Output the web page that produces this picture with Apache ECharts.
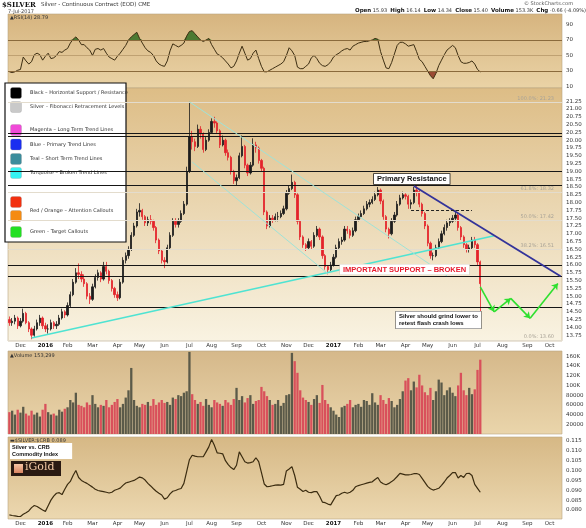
<!DOCTYPE html>
<html>
<head>
<meta charset="utf-8">
<script src="https://cdn.jsdelivr.net/npm/echarts@6/dist/echarts.min.js"></script>
<style>
  *{margin:0;padding:0;}
  body{background:#fff;}
  #chart{width:586px;height:528px;}
</style>
</head>
<body>
<div id="chart"></div>
<script>
// half-week bars (Mon-Wed / Thu-Fri), Thu 19 Nov 2015 .. mid Oct 2017
const barCount = 200;
const cats = [];
let day = new Date(Date.UTC(2015, 10, 19));
for (let i = 0; i < barCount; i++) {
  cats.push(day.toISOString().slice(0, 10));
  day = new Date(day.getTime() + (day.getUTCDay() === 4 ? 4 : 3) * 86400000);
}

// [open, close, low, high]
const candles = [
  [14.25,14.15,14.05,14.35],[14.15,14.2,14.05,14.3],[14.2,14.3,14.1,14.4],[14.3,14.05,13.95,14.35],[14.05,14.2,14.0,14.3],
  [14.2,14.45,14.15,14.6],[14.45,14.15,14.1,14.5],[14.15,13.95,13.85,14.2],[13.95,13.75,13.62,14.0],[13.75,13.95,13.7,14.05],
  [13.95,14.15,13.9,14.25],[14.15,14.3,14.05,14.4],[14.3,14.05,13.95,14.35],[14.05,13.95,13.85,14.15],[13.95,13.95,13.8,14.1],
  [13.95,14.15,13.9,14.25],[14.15,14.05,13.95,14.2],[14.05,14.1,13.95,14.2],[14.1,14.3,14.05,14.4],[14.3,14.5,14.25,14.6],
  [14.5,14.4,14.3,14.55],[14.4,14.7,14.35,14.8],[14.7,15.05,14.65,15.15],[15.05,15.45,15.0,15.55],[15.45,15.75,15.4,15.9],
  [15.75,15.7,15.55,16.05],[15.7,15.55,15.45,15.8],[15.55,15.4,15.3,15.7],[15.4,15.0,14.9,15.45],[15.0,14.9,14.75,15.1],
  [14.9,15.3,14.85,15.4],[15.3,15.6,15.25,15.7],[15.6,15.75,15.5,15.85],[15.75,15.55,15.45,15.8],[15.55,15.95,15.5,16.1],
  [15.95,15.8,15.7,16.1],[15.8,15.5,15.4,15.85],[15.5,15.25,15.15,15.55],[15.25,15.05,14.95,15.3],[15.05,14.95,14.85,15.15],
  [14.95,15.45,14.9,15.55],[15.45,16.15,15.4,16.25],[16.15,16.3,16.05,16.4],[16.3,16.5,16.2,16.6],[16.5,16.95,16.45,17.05],
  [16.95,17.25,16.9,17.35],[17.25,17.7,17.2,17.8],[17.7,17.75,17.55,17.98],[17.75,17.55,17.45,17.8],[17.55,17.35,17.25,17.6],
  [17.35,17.45,17.25,17.55],[17.45,17.4,17.3,17.6],[17.4,17.2,17.1,17.45],[17.2,16.8,16.7,17.25],[16.8,16.45,16.35,16.85],
  [16.45,16.15,16.05,16.5],[16.15,16.1,15.9,16.25],[16.1,16.55,16.05,16.65],[16.55,16.95,16.5,17.05],[16.95,17.4,16.9,17.5],
  [17.4,17.3,17.2,17.5],[17.3,17.4,17.2,17.5],[17.4,17.65,17.35,17.75],[17.65,17.95,17.6,18.05],[17.95,19.0,17.9,19.15],
  [19.0,20.1,18.95,21.23],[20.1,19.95,19.7,20.3],[19.95,19.8,19.65,20.05],[19.8,20.35,19.75,20.5],[20.35,20.2,20.05,20.45],
  [20.2,19.7,19.6,20.25],[19.7,20.0,19.65,20.1],[20.0,20.25,19.95,20.35],[20.25,20.6,20.2,20.7],[20.6,20.55,20.4,20.75],
  [20.55,20.3,20.2,20.6],[20.3,19.85,19.75,20.35],[19.85,20.0,19.8,20.15],[20.0,19.6,19.5,20.05],[19.6,19.45,19.35,19.7],
  [19.45,19.0,18.9,19.5],[19.0,18.7,18.6,19.05],[18.7,18.8,18.55,18.9],[18.8,19.5,18.75,19.6],[19.5,19.8,19.45,20.15],
  [19.8,19.2,19.1,19.85],[19.2,18.95,18.85,19.25],[18.95,19.2,18.9,19.3],[19.2,19.85,19.15,20.06],[19.85,19.75,19.6,19.95],
  [19.75,19.35,19.25,19.8],[19.35,19.1,19.0,19.4],[19.1,17.7,17.6,19.15],[17.7,17.25,17.15,17.75],[17.25,17.5,17.2,17.6],
  [17.5,17.45,17.35,17.6],[17.45,17.55,17.4,17.65],[17.55,17.55,17.4,17.7],[17.55,17.65,17.5,17.75],[17.65,17.8,17.6,17.9],
  [17.8,18.3,17.75,18.4],[18.3,18.45,18.25,18.55],[18.45,18.65,18.4,18.9],[18.65,18.25,18.15,18.7],[18.25,17.4,17.3,18.3],
  [17.4,16.9,16.8,17.45],[16.9,16.65,16.55,16.95],[16.65,16.55,16.45,16.7],[16.55,16.75,16.5,16.85],[16.75,16.6,16.5,16.8],
  [16.6,16.95,16.55,17.05],[16.95,17.15,16.9,17.25],[17.15,16.9,16.8,17.2],[16.9,16.3,16.2,16.95],[16.3,15.95,15.85,16.35],
  [15.95,15.85,15.7,16.0],[15.85,16.0,15.8,16.1],[16.0,16.25,15.95,16.35],[16.25,16.55,16.2,16.65],[16.55,16.75,16.5,16.85],
  [16.75,16.8,16.65,16.9],[16.8,17.15,16.75,17.25],[17.15,17.1,17.0,17.25],[17.1,16.95,16.85,17.15],[16.95,17.1,16.9,17.2],
  [17.1,17.45,17.05,17.55],[17.45,17.55,17.4,17.65],[17.55,17.65,17.5,17.75],[17.65,17.8,17.6,17.9],[17.8,17.95,17.75,18.05],
  [17.95,18.0,17.85,18.1],[18.0,18.1,17.95,18.2],[18.1,18.25,18.05,18.35],[18.25,18.4,18.2,18.5],[18.4,18.05,17.95,18.45],
  [18.05,17.55,17.45,18.1],[17.55,17.15,17.05,17.6],[17.15,17.0,16.85,17.2],[17.0,17.4,16.95,17.5],[17.4,17.6,17.35,17.7],
  [17.6,17.95,17.55,18.05],[17.95,18.15,17.9,18.25],[18.15,18.25,18.1,18.35],[18.25,18.2,18.1,18.3],[18.2,17.95,17.8,18.25],
  [17.95,18.0,17.8,18.1],[18.0,18.4,17.95,18.5],[18.4,18.35,18.2,18.55],[18.35,17.95,17.85,18.4],[17.95,17.65,17.55,18.0],
  [17.65,17.25,17.15,17.7],[17.25,16.7,16.6,17.3],[16.7,16.3,16.2,16.75],[16.3,16.3,16.15,16.4],[16.3,16.55,16.25,16.65],
  [16.55,16.75,16.5,16.85],[16.75,17.0,16.7,17.1],[17.0,17.2,16.95,17.3],[17.2,17.35,17.1,17.45],[17.35,17.4,17.25,17.5],
  [17.4,17.5,17.35,17.6],[17.5,17.6,17.4,17.75],[17.6,17.2,17.1,17.65],[17.2,16.9,16.8,17.25],[16.9,16.65,16.55,16.95],
  [16.65,16.5,16.4,16.7],[16.5,16.55,16.4,16.65],[16.55,16.8,16.5,16.9],[16.8,16.65,16.55,16.9],[16.65,16.1,16.0,16.7],
  [16.1,15.4,14.34,16.14]
];

// volume, thousands of contracts
const volumeK = [
  45,48,40,50,44,56,42,38,48,40, 44,36,50,62,45,40,42,38,50,46,
  52,55,70,65,85,60,58,55,65,60, 80,62,55,60,58,70,55,60,66,72,
  55,62,75,90,136,70,58,55,62,60, 66,58,72,60,65,70,64,66,60,75,
  72,80,78,85,88,169,82,70,62,66, 58,72,60,55,70,65,62,58,70,65,
  60,72,95,70,78,65,74,80,62,68, 70,97,88,78,70,60,62,70,58,64,
  80,82,167,150,126,90,75,70,66,60, 72,80,64,101,70,62,55,48,40,35,
  55,58,62,70,55,60,62,56,70,68, 60,84,65,60,80,70,62,74,68,55,
  60,72,88,110,115,90,108,96,122,100, 86,80,95,70,88,112,106,80,90,96,
  85,78,100,126,90,80,95,82,92,132, 153
];

// RSI(14)
const rsi14 = [
  29,28,29,31,32,48,43,39,42,51, 53,51,44,49,53,46,47,50,55,54,
  57,59,66,71,74,70,64,64,60,57, 50,58,59,57,59,53,48,46,44,49,
  53,58,63,70,74,77,80,72,66,60, 56,54,50,43,39,37,36,43,56,65,
  63,61,63,66,75,81,82,78,74,70, 68,70,72,64,58,52,50,47,43,39,
  34,36,43,53,62,53,44,46,53,57, 46,36,29,29,31,33,35,37,39,42,
  50,60,56,50,35,33,33,36,39,47, 50,46,40,37,36,38,42,48,51,53,
  56,58,59,57,62,64,66,67,68,68, 69,70,72,71,55,44,34,33,41,52,
  63,67,67,65,62,63,64,55,45,42, 36,30,24,20,27,37,44,51,57,60,
  63,60,50,42,40,40,41,43,39,32, 28.79
];

// $SILVER:$CRB ratio
const silverCrb = [
  0.0775,0.0772,0.0770,0.0768,0.0767,0.0778,0.0786,0.0795,0.0812,0.0823,
  0.0818,0.0809,0.0800,0.0793,0.0822,0.0850,0.0870,0.0885,0.0888,0.0878,
  0.0905,0.0930,0.0945,0.0975,0.1000,0.0965,0.0950,0.0942,0.0935,0.0925,
  0.0916,0.0905,0.0899,0.0896,0.0893,0.0890,0.0886,0.0890,0.0900,0.0905,
  0.0911,0.0925,0.0937,0.0941,0.0946,0.0950,0.0958,0.0967,0.0963,0.0952,
  0.0935,0.0922,0.0908,0.0895,0.0885,0.0876,0.0855,0.0862,0.0882,0.0895,
  0.0899,0.0905,0.0909,0.0935,0.0995,0.1055,0.1078,0.1073,0.1070,0.1070,
  0.1070,0.1095,0.1120,0.1158,0.1128,0.1090,0.1088,0.1085,0.1050,0.1030,
  0.1015,0.1005,0.1027,0.1095,0.1070,0.1045,0.1038,0.1040,0.1045,0.1065,
  0.1045,0.0990,0.0932,0.0918,0.0920,0.0923,0.0926,0.0927,0.0926,0.0930,
  0.0998,0.1008,0.1020,0.0975,0.0915,0.0905,0.0894,0.0900,0.0890,0.0888,
  0.0893,0.0893,0.0870,0.0840,0.0837,0.0830,0.0826,0.0850,0.0873,0.0876,
  0.0885,0.0890,0.0885,0.0890,0.0900,0.0918,0.0924,0.0928,0.0932,0.0936,
  0.0940,0.0943,0.0955,0.0965,0.0942,0.0933,0.0928,0.0935,0.0944,0.0955,
  0.0970,0.0986,0.0982,0.0978,0.0978,0.0980,0.0984,0.0985,0.0980,0.0960,
  0.0940,0.0920,0.0908,0.0901,0.0905,0.0910,0.0925,0.0942,0.0962,0.0975,
  0.0990,0.0990,0.0962,0.0975,0.0965,0.0985,0.0986,0.0975,0.0930,0.0910,
  0.0890
];

// axis tick labels
const rsiTicks = [10, 30, 50, 70, 90];
const priceTicks = [13.75,14.00,14.25,14.50,14.75,15.00,15.25,15.50,15.75,16.00,16.25,16.50,16.75,17.00,17.25,
  17.50,17.75,18.00,18.25,18.50,18.75,19.00,19.25,19.50,19.75,20.00,20.25,20.50,20.75,21.00,21.25];
const volumeTicks = [20, 40, 60, 80, 100, 120, 140, 160];
const ratioTicks = [0.080, 0.085, 0.090, 0.095, 0.100, 0.105, 0.110, 0.115];

// drawn levels
const blackLevels = [20.21, 20.13, 19.00, 18.55, 16.00, 15.65, 14.63];
const fibLevels = [[21.23, '100.0%: 21.23'], [18.32, '61.8%: 18.32'], [17.42, '50.0%: 17.42'], [16.51, '38.2%: 16.51'], [13.60, '0.0%: 13.60']];

const chart = echarts.init(document.getElementById('chart'));
const F = 'DejaVu Sans';
const UP = '#1c1c1c', DOWN = '#e3232b';
const MON = ['Jan','Feb','Mar','Apr','May','Jun','Jul','Aug','Sep','Oct','Nov','Dec'];

function monthStart(i, v) {
  return i > 0 && v.slice(0, 7) !== cats[i - 1].slice(0, 7);
}
function monthName(v) {
  const m = +v.slice(5, 7);
  return m === 1 ? '{yr|' + v.slice(0, 4) + '}' : MON[m - 1];
}
function grad(a, b) {
  return new echarts.graphic.LinearGradient(0, 0, 0, 1, [{offset: 0, color: a}, {offset: 1, color: b}]);
}
function xAx(g, labels) {
  return {
    type: 'category', gridIndex: g, data: cats, boundaryGap: true,
    axisLine: {show: false}, axisTick: {show: false}, splitLine: {show: false},
    axisLabel: labels ? {
      show: true, interval: monthStart, formatter: monthName, fontSize: 5.5, fontFamily: F,
      color: '#333', margin: 2, rich: {yr: {fontWeight: 'bold', fontSize: 5.5, fontFamily: F, color: '#111'}}
    } : {show: false}
  };
}
function yAx(g, min, max, ticks, fmt) {
  return {
    type: 'value', gridIndex: g, position: 'right', min: min, max: max,
    axisLine: {show: false}, axisTick: {show: false}, splitLine: {show: false},
    axisLabel: {customValues: ticks, formatter: fmt, fontSize: 5.5, fontFamily: F, color: '#333', margin: 4}
  };
}
const gridBase = {left: 8, right: 24, show: true, borderWidth: 0.6, borderColor: '#b9a57f', outerBoundsMode: 'none'};

const volColors = candles.map(c => c[1] >= c[0] ? '#5b5a49' : '#d9505b');

function seg(a, b, style, arrow) {
  return [
    {coord: a, symbol: 'none', lineStyle: style},
    {coord: b, symbol: arrow ? 'arrow' : 'none', symbolSize: 6}
  ];
}

const priceLines = [];
blackLevels.forEach(v => priceLines.push({yAxis: v, lineStyle: {color: '#161616', width: 1, type: 'solid'}, label: {show: false}}));
fibLevels.forEach(f => priceLines.push({
  yAxis: f[0], lineStyle: {color: '#e3dccd', width: 1, type: 'solid'},
  label: {show: true, position: 'insideEndTop', formatter: f[1], fontSize: 5, fontFamily: F, color: '#a9a397', distance: [8, 1]}
}));
const teal = {color: '#9fe3d8', width: 1, type: 'solid'};
const turq = {color: '#4fe3d2', width: 1.6, type: 'solid'};
const navy = {color: '#33339a', width: 1.8, type: 'solid'};
const green = {color: '#2fe02f', width: 1.6, type: 'solid'};
priceLines.push(seg([8, 13.66], [175, 16.94], turq));
priceLines.push(seg([65, 21.23], [158, 15.65], teal));
priceLines.push(seg([66, 19.30], [115, 15.72], teal));
priceLines.push(seg([146, 18.53], [199, 15.64], navy));
priceLines.push(seg([145, 17.76], [167, 17.76], {color: '#222', width: 1, type: [3, 2]}));
priceLines.push(seg([170, 15.30], [175, 14.50], green, true));
priceLines.push(seg([175, 14.50], [181, 14.93], green, true));
priceLines.push(seg([181, 14.93], [188, 14.29], green, true));
priceLines.push(seg([188, 14.29], [198, 15.41], green, true));

const legendItems = [
  ['#000000', 'Black – Horizontal Support / Resistance', 93],
  ['#c9c9c9', 'Silver – Fibonacci Retracement Levels', 107],
  ['#f04ad8', 'Magenta – Long Term Trend Lines', 130],
  ['#1a2ef0', 'Blue – Primary Trend Lines', 144.5],
  ['#3a8c9c', 'Teal – Short Term Trend Lines', 159],
  ['#33f2f2', 'Turquoise – Broken Trend Lines', 173],
  ['#f2300f', '', 202],
  ['#f58b12', 'Red / Orange – Attention Callouts', 209],
  ['#22e022', 'Green – Target Callouts', 232]
];
const legendEls = [{type: 'rect', shape: {x: 5, y: 83, width: 121, height: 159}, style: {fill: '#fff', stroke: '#111', lineWidth: 1.2}}];
legendItems.forEach((it, i) => {
  const sy = i === 7 ? 216 : it[2];
  legendEls.push({type: 'rect', shape: {x: 10.5, y: sy - 5.5, width: 11, height: 11, r: 2}, style: {fill: it[0], stroke: '#999', lineWidth: 0.3}});
  if (it[1]) legendEls.push({type: 'text', x: 30, y: it[2] + (i === 7 ? 2 : 0), style: {text: it[1], font: '5px ' + F, fill: '#333', textVerticalAlign: 'middle'}});
});

chart.setOption({
  animation: false,
  backgroundColor: '#ffffff',
  grid: [
    Object.assign({top: 14, height: 74, backgroundColor: grad('#d6b47f', '#ead3a6')}, gridBase),
    Object.assign({top: 88, height: 253, backgroundColor: grad('#ddbd86', '#f9f3e2')}, gridBase),
    Object.assign({top: 351, height: 83, backgroundColor: grad('#d5b88a', '#ead5ab')}, gridBase),
    Object.assign({top: 437, height: 82, backgroundColor: grad('#d6b885', '#ecd8b0')}, gridBase)
  ],
  xAxis: [xAx(0, false), xAx(1, true), xAx(2, false), xAx(3, true)],
  yAxis: [
    yAx(0, 8.1, 103.5, rsiTicks, v => String(v)),
    yAx(1, 13.564, 21.673, priceTicks, v => v.toFixed(2)),
    yAx(2, 0, 170.9, volumeTicks, v => v >= 100 ? v + 'K' : String(v * 1000)),
    yAx(3, 0.07543, 0.11703, ratioTicks, v => v.toFixed(3))
  ],
  series: [
    {
      type: 'line', xAxisIndex: 0, yAxisIndex: 0, data: rsi14.map(v => Math.max(v, 70)), symbol: 'none',
      lineStyle: {width: 0}, areaStyle: {origin: 70, color: '#4c7a33', opacity: 1}, silent: true, z: 2
    },
    {
      type: 'line', xAxisIndex: 0, yAxisIndex: 0, data: rsi14.map(v => Math.min(v, 30)), symbol: 'none',
      lineStyle: {width: 0}, areaStyle: {origin: 30, color: '#9b4a33', opacity: 1}, silent: true, z: 2
    },
    {
      type: 'line', xAxisIndex: 0, yAxisIndex: 0, data: rsi14, symbol: 'none', z: 4,
      lineStyle: {color: '#3d2e12', width: 1},
      markLine: {
        silent: true, symbol: ['none', 'none'], label: {show: false},
        data: [
          {yAxis: 70, lineStyle: {color: '#8a6a3c', width: 1, type: 'solid'}},
          {yAxis: 50, lineStyle: {color: '#b6986a', width: 0.8, type: 'solid'}},
          {yAxis: 30, lineStyle: {color: '#8a6a3c', width: 1, type: 'solid'}}
        ]
      }
    },
    {
      type: 'candlestick', xAxisIndex: 1, yAxisIndex: 1, barWidth: 1.8, z: 4,
      data: candles,
      itemStyle: {color: UP, color0: DOWN, borderColor: UP, borderColor0: DOWN, borderWidth: 0.8},
      markLine: {silent: true, symbol: ['none', 'none'], label: {show: false}, data: priceLines}
    },
    {
      type: 'bar', xAxisIndex: 2, yAxisIndex: 2, barWidth: 2.3, z: 3,
      data: volumeK.map((v, i) => ({value: v, itemStyle: {color: volColors[i]}}))
    },
    {
      type: 'line', xAxisIndex: 3, yAxisIndex: 3, data: silverCrb, symbol: 'none', z: 4,
      lineStyle: {color: '#3b2c10', width: 1.2},
      markLine: {
        silent: true, symbol: ['none', 'none'], label: {show: false},
        data: [seg([3, 0.0752], [171, 0.0867], {color: '#4b3bd6', width: 1.6, type: [4, 2]})]
      }
    }
  ],
  graphic: [
    // header
    {type: 'text', x: 2, y: 1.5, style: {text: '$SILVER', font: 'bold 7px "DejaVu Serif"', fill: '#111'}},
    {type: 'text', x: 41, y: 2, style: {text: 'Silver - Continuous Contract (EOD) CME', font: '5.5px ' + F, fill: '#333'}},
    {type: 'text', x: 8, y: 9, style: {text: '7-Jul-2017', font: '5px ' + F, fill: '#444'}},
    {type: 'text', x: 524, y: 1, style: {text: '© StockCharts.com', font: '5px ' + F, fill: '#555'}},
    {type: 'text', x: 355, y: 8, style: {
      text: '{b|Open} 15.93  {b|High} 16.14  {b|Low} 14.34  {b|Close} 15.40  {b|Volume} 153.3K  {b|Chg} -0.66 (-4.09%) {r|▼}',
      font: '5px ' + F, fill: '#333',
      rich: {b: {fontWeight: 'bold', fontSize: 5.5, fontFamily: F, fill: '#111'}, r: {fill: '#d02020', fontSize: 5}}
    }},
    // panel captions
    {type: 'text', x: 10, y: 15, style: {text: '▲RSI(14) 28.79', font: '5px ' + F, fill: '#333'}, z: 20},
    {type: 'text', x: 10, y: 353, style: {text: '▲Volume 153,299', font: '5px ' + F, fill: '#333'}, z: 20},
    {type: 'text', x: 10, y: 438.5, style: {text: '▬$SILVER:$CRB 0.089', font: '5px ' + F, fill: '#333'}, z: 20},
    // legend box
    {type: 'group', z: 30, children: legendEls},
    // callouts
    {type: 'text', x: 374, y: 174, z: 30, style: {
      text: 'Primary Resistance', font: 'bold 7.5px "Liberation Sans"', fill: '#111',
      backgroundColor: '#fff', borderColor: '#222', borderWidth: 0.8, padding: [1, 3, 1, 3]
    }},
    {type: 'text', x: 340, y: 264.5, z: 30, style: {
      text: 'IMPORTANT SUPPORT – BROKEN', font: 'bold 7.5px "Liberation Sans"', fill: '#e8192c',
      backgroundColor: '#fff', borderColor: '#d8d0c4', borderWidth: 0.6, padding: [1, 3, 1, 3]
    }},
    {type: 'text', x: 396, y: 311.5, z: 30, style: {
      text: 'Silver should grind lower to\nretest flash crash lows', font: 'bold 6px "Liberation Sans"', fill: '#111',
      lineHeight: 7.5, backgroundColor: '#fff', borderColor: '#555', borderWidth: 0.6, padding: [1, 3, 1, 3]
    }},
    // ratio panel boxes
    {type: 'text', x: 10, y: 443, z: 30, style: {
      text: 'Silver vs. CRB\nCommodity Index', font: 'bold 5.5px "Liberation Sans"', fill: '#111', lineHeight: 7,
      backgroundColor: '#fff', padding: [1, 14, 1, 2]
    }},
    {type: 'rect', z: 30, shape: {x: 11, y: 461, width: 50, height: 15}, style: {fill: '#2a1a12'}},
    {type: 'rect', z: 31, shape: {x: 14, y: 464, width: 9, height: 9}, style: {fill: grad('#f7c6a4', '#d98461')}},
    {type: 'text', z: 31, x: 25, y: 462, style: {text: 'iGold', font: '11px "DejaVu Serif"', fill: '#f3c9a4'}}
  ]
});
</script>
</body>
</html>
